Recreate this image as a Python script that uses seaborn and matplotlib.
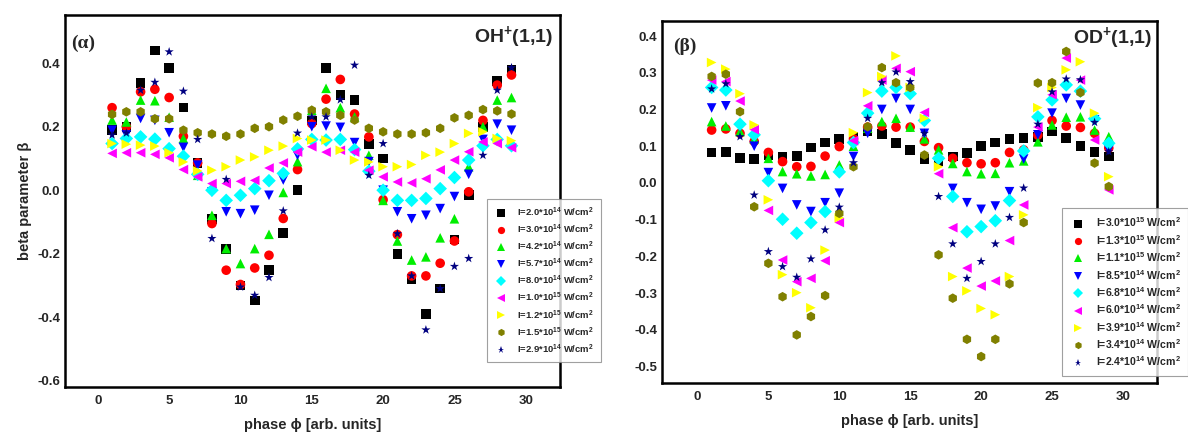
import matplotlib
matplotlib.use("Agg")
import matplotlib.pyplot as plt
import seaborn as sns
import pandas as pd
from matplotlib.ticker import MultipleLocator

# ---------------- data ----------------
phase = list(range(1, 30))

oh_labels = ["I=2.0*10$^{14}$ W/cm$^{2}$", "I=3.0*10$^{14}$ W/cm$^{2}$", "I=4.2*10$^{14}$ W/cm$^{2}$",
             "I=5.7*10$^{14}$ W/cm$^{2}$", "I=8.0*10$^{14}$ W/cm$^{2}$", "I=1.0*10$^{15}$ W/cm$^{2}$",
             "I=1.2*10$^{15}$ W/cm$^{2}$", "I=1.5*10$^{15}$ W/cm$^{2}$", "I=2.9*10$^{14}$ W/cm$^{2}$"]

oh_20 = [0.19, 0.20, 0.337, 0.44, 0.386, 0.261, 0.085, -0.09, -0.185, -0.30, -0.347, -0.252, -0.134, 0.0, 0.22,
         0.386, 0.30, 0.284, 0.145, 0.10, -0.20, -0.28, -0.39, -0.31, -0.155, -0.016, 0.20, 0.344, 0.38]
oh_30 = [0.26, 0.20, 0.31, 0.318, 0.292, 0.17, 0.086, -0.105, -0.252, -0.297, -0.245, -0.205, -0.089, 0.065, 0.21,
         0.287, 0.349, 0.24, 0.168, -0.03, -0.14, -0.27, -0.27, -0.23, -0.16, -0.005, 0.22, 0.331, 0.363]
oh_42 = [0.221, 0.215, 0.284, 0.282, 0.23, 0.163, 0.047, -0.079, -0.184, -0.231, -0.184, -0.139, -0.007, 0.09, 0.252,
         0.321, 0.26, 0.231, 0.11, -0.032, -0.16, -0.22, -0.21, -0.15, -0.09, 0.074, 0.20, 0.284, 0.292]
oh_57 = [0.189, 0.174, 0.226, 0.22, 0.181, 0.135, 0.079, -0.005, -0.068, -0.074, -0.063, -0.016, 0.032, 0.11, 0.20,
         0.202, 0.198, 0.15, 0.09, 0.0, -0.068, -0.09, -0.079, -0.058, -0.02, 0.05, 0.16, 0.208, 0.189]
oh_80 = [0.147, 0.163, 0.168, 0.161, 0.131, 0.107, 0.05, 0.0, -0.032, -0.016, 0.005, 0.03, 0.053, 0.13, 0.16,
         0.158, 0.16, 0.128, 0.06, 0.0, -0.032, -0.032, -0.026, 0.005, 0.04, 0.095, 0.14, 0.16, 0.14]
oh_100 = [0.116, 0.118, 0.118, 0.113, 0.102, 0.065, 0.042, 0.021, 0.021, 0.028, 0.031, 0.070, 0.086, 0.12, 0.137,
          0.12, 0.126, 0.12, 0.063, 0.042, 0.026, 0.023, 0.036, 0.064, 0.095, 0.121, 0.152, 0.147, 0.134]
oh_120 = [0.147, 0.145, 0.142, 0.139, 0.118, 0.089, 0.061, 0.063, 0.074, 0.095, 0.105, 0.126, 0.139, 0.163, 0.158,
          0.158, 0.126, 0.095, 0.089, 0.074, 0.074, 0.081, 0.11, 0.12, 0.147, 0.179, 0.184, 0.163, 0.156]
oh_150 = [0.239, 0.247, 0.247, 0.225, 0.225, 0.189, 0.181, 0.177, 0.170, 0.177, 0.195, 0.2, 0.221, 0.233, 0.252,
          0.247, 0.236, 0.221, 0.195, 0.184, 0.177, 0.177, 0.181, 0.195, 0.228, 0.236, 0.254, 0.25, 0.24]
oh_29 = [0.174, 0.18, 0.315, 0.34, 0.436, 0.312, 0.16, -0.152, 0.034, -0.305, -0.331, -0.275, -0.065, 0.18, 0.231,
         0.231, 0.285, 0.394, 0.047, 0.147, -0.137, -0.27, -0.44, -0.31, -0.24, -0.215, 0.11, 0.315, 0.386]

od_labels = ["I=3.0*10$^{15}$ W/cm$^{2}$", "I=1.3*10$^{15}$ W/cm$^{2}$", "I=1.1*10$^{15}$ W/cm$^{2}$",
             "I=8.5*10$^{14}$ W/cm$^{2}$", "I=6.8*10$^{14}$ W/cm$^{2}$", "I=6.0*10$^{14}$ W/cm$^{2}$",
             "I=3.9*10$^{14}$ W/cm$^{2}$", "I=3.4*10$^{14}$ W/cm$^{2}$", "I=2.4*10$^{14}$ W/cm$^{2}$"]

od_300 = [0.083, 0.085, 0.067, 0.065, 0.075, 0.072, 0.074, 0.096, 0.11, 0.119, 0.125, 0.14, 0.133, 0.108, 0.09,
          0.065, 0.06, 0.072, 0.081, 0.101, 0.11, 0.119, 0.122, 0.125, 0.14, 0.122, 0.101, 0.085, 0.072]
od_130 = [0.144, 0.147, 0.135, 0.113, 0.083, 0.058, 0.044, 0.045, 0.073, 0.099, 0.12, 0.152, 0.155, 0.152, 0.152,
          0.113, 0.096, 0.067, 0.055, 0.052, 0.055, 0.083, 0.09, 0.13, 0.17, 0.155, 0.151, 0.135, 0.095]
od_110 = [0.167, 0.155, 0.14, 0.12, 0.067, 0.031, 0.025, 0.019, 0.023, 0.049, 0.1, 0.149, 0.167, 0.176, 0.152,
          0.12, 0.09, 0.053, 0.031, 0.025, 0.026, 0.055, 0.06, 0.112, 0.158, 0.179, 0.18, 0.144, 0.126]
od_85 = [0.204, 0.21, 0.152, 0.1, 0.028, -0.015, -0.06, -0.078, -0.054, -0.028, 0.072, 0.135, 0.2, 0.23, 0.2,
         0.135, 0.06, -0.015, -0.054, -0.072, -0.063, -0.024, 0.065, 0.131, 0.19, 0.23, 0.212, 0.172, 0.09]
od_68 = [0.26, 0.253, 0.16, 0.131, 0.006, -0.099, -0.137, -0.108, -0.078, 0.03, 0.11, 0.19, 0.25, 0.26, 0.243,
         0.17, 0.067, -0.037, -0.133, -0.119, -0.103, -0.048, 0.087, 0.18, 0.226, 0.267, 0.25, 0.175, 0.108]
od_60 = [0.28, 0.276, 0.223, 0.145, -0.075, -0.21, -0.269, -0.26, -0.212, -0.108, 0.115, 0.21, 0.28, 0.312, 0.303,
         0.192, 0.025, -0.122, -0.232, -0.281, -0.267, -0.157, -0.06, 0.152, 0.24, 0.34, 0.28, 0.117, -0.019]
od_39 = [0.328, 0.31, 0.243, 0.158, -0.046, -0.25, -0.299, -0.34, -0.183, -0.095, 0.137, 0.246, 0.29, 0.346, 0.26,
         0.176, 0.044, -0.255, -0.294, -0.342, -0.359, -0.255, -0.087, 0.205, 0.26, 0.308, 0.33, 0.19, 0.017]
od_34 = [0.29, 0.296, 0.194, -0.065, -0.219, -0.31, -0.414, -0.364, -0.307, -0.083, 0.044, 0.153, 0.314, 0.273, 0.26,
         0.076, -0.196, -0.314, -0.426, -0.473, -0.426, -0.275, -0.108, 0.272, 0.273, 0.358, 0.246, 0.054, -0.01]
od_24 = [0.256, 0.27, 0.126, -0.033, -0.187, -0.228, -0.257, -0.207, -0.128, -0.066, 0.055, 0.176, 0.273, 0.302, 0.276,
         0.135, -0.037, -0.166, -0.26, -0.214, -0.166, -0.094, -0.014, 0.16, 0.248, 0.283, 0.281, 0.165, 0.085]

oh_series = [oh_20, oh_30, oh_42, oh_57, oh_80, oh_100, oh_120, oh_150, oh_29]
od_series = [od_300, od_130, od_110, od_85, od_68, od_60, od_39, od_34, od_24]

colors = ["#000000", "#FF0000", "#00EE00", "#0000FF", "#00FFFF", "#FF00FF", "#FFFF00", "#808000", "#000080"]
marks = ["s", "o", "^", "v", "D", "<", ">", "h", "*"]

# ---------------- style ----------------
sns.set_style("white")
plt.rcParams["font.family"] = ["Liberation Sans", "DejaVu Sans"]
plt.rcParams["font.weight"] = "bold"
plt.rcParams["axes.unicode_minus"] = False
plt.rcParams["mathtext.fontset"] = "custom"
plt.rcParams["mathtext.rm"] = "Liberation Sans:bold"
plt.rcParams["mathtext.bf"] = "Liberation Sans:bold"
plt.rcParams["mathtext.it"] = "Liberation Sans:bold"

fig = plt.figure(figsize=(11.88, 4.38), dpi=100)
axL = fig.add_axes([65 / 1188, 1 - 387 / 438, 495 / 1188, 372 / 438])
axR = fig.add_axes([662 / 1188, 1 - 383 / 438, 495 / 1188, 362 / 438])


def build(series, labels):
    frames = []
    for vals, lab in zip(series, labels):
        frames.append(pd.DataFrame({"phase": phase, "beta": vals, "series": lab}))
    return pd.concat(frames, ignore_index=True)


def draw(ax, series, labels, s, leg_anchor, leg_fs, leg_spacing):
    df = build(series, labels)
    sns.scatterplot(data=df, x="phase", y="beta", hue="series", style="series",
                    hue_order=labels, style_order=labels,
                    palette=dict(zip(labels, colors)), markers=dict(zip(labels, marks)),
                    s=s, linewidth=0, ax=ax, zorder=3)
    sns.move_legend(ax, loc="upper left", bbox_to_anchor=leg_anchor, title=None,
                    frameon=True, fancybox=False, edgecolor="#888888", fontsize=leg_fs,
                    labelspacing=leg_spacing, handletextpad=0.9, handlelength=1.6,
                    borderaxespad=0, borderpad=0.7, markerscale=0.75)
    leg = ax.get_legend()
    leg.get_frame().set_linewidth(0.8)
    leg.set_zorder(10)
    for sp in ax.spines.values():
        sp.set_linewidth(1.8)
        sp.set_color("black")
    ax.xaxis.set_major_locator(MultipleLocator(5))
    ax.xaxis.set_minor_locator(MultipleLocator(2.5))
    ax.tick_params(which="both", direction="in", width=1.5, labelsize=9.5,
                   top=False, right=False)
    ax.tick_params(which="major", length=5)
    ax.tick_params(which="minor", length=3)
    ax.tick_params(axis="x", pad=6)
    ax.set_xlabel("phase ϕ [arb. units]", fontsize=10.5, fontweight="bold", labelpad=8)


# left panel
draw(axL, oh_series, oh_labels, 48, (0.853, 0.505), 6.8, 0.4)
axL.set_xlim(-2.3, 32.4)
axL.set_ylim(-0.62, 0.552)
axL.yaxis.set_major_locator(MultipleLocator(0.2))
axL.yaxis.set_minor_locator(MultipleLocator(0.1))
axL.set_ylabel("beta parameter β", fontsize=10.5, fontweight="bold", labelpad=4)
axL.text(0.012, 0.925, "(α)", transform=axL.transAxes, family="Liberation Serif",
         fontweight="bold", fontsize=14, va="center", ha="left")
axL.text(0.985, 0.975, "OH$^{+}$(1,1)", transform=axL.transAxes,
         fontweight="bold", fontsize=14, va="top", ha="right")

# right panel
draw(axR, od_series, od_labels, 48, (0.808, 0.483), 7.6, 0.34)
axR.set_xlim(-2.5, 32.4)
axR.set_ylim(-0.545, 0.441)
axR.yaxis.set_major_locator(MultipleLocator(0.1))
axR.yaxis.set_minor_locator(MultipleLocator(0.05))
axR.set_ylabel("")
axR.text(0.022, 0.93, "(β)", transform=axR.transAxes, family="Liberation Serif",
         fontweight="bold", fontsize=14, va="center", ha="left")
axR.text(0.99, 0.99, "OD$^{+}$(1,1)", transform=axR.transAxes,
         fontweight="bold", fontsize=14, va="top", ha="right")

for t in axL.get_xticklabels() + axL.get_yticklabels() + axR.get_xticklabels() + axR.get_yticklabels():
    t.set_fontweight("bold")

fig.savefig("out.png", dpi=100)
